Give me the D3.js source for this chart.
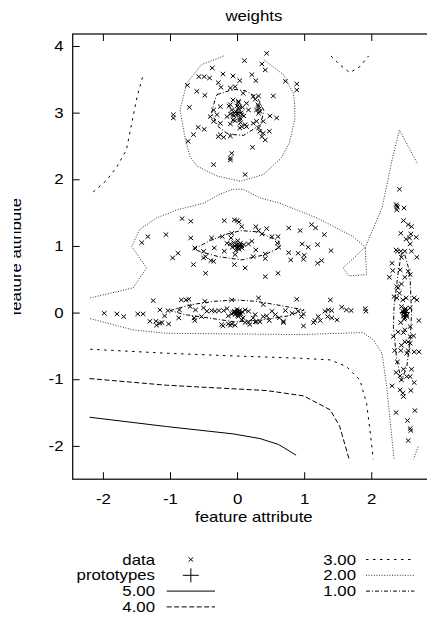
<!DOCTYPE html>
<html>
<head>
<meta charset="utf-8">
<script src="https://cdn.jsdelivr.net/npm/d3@7"></script>
<style>
  html, body { margin: 0; padding: 0; background: #fff; }
  svg { display: block; }
  text { font-family: "Liberation Sans", Arial, Helvetica, sans-serif; font-size: 14px; fill: #000; }
</style>
</head>
<body>
<svg id="chart" width="427" height="618"></svg>
<script>
// ---- data ----------------------------------------------------------------
const xTicks = [-2, -1, 0, 1, 2];
const yTicks = [-2, -1, 0, 1, 2, 3, 4];

const clusterTop = [
  [0.44,3.89],[0.11,3.78],[0.37,3.73],[0.42,3.64],[-0.37,3.67],[-0.57,3.54],[-0.49,3.54],[-0.41,3.52],
  [-0.21,3.58],[-0.06,3.55],[0.04,3.48],[0.22,3.57],[0.28,3.48],[0.72,3.47],[0.89,3.43],[0.89,3.34],
  [-0.74,3.41],[-0.28,3.45],[-0.24,3.38],[-0.10,3.37],[-0.03,3.39],[-0.60,3.32],[-0.48,3.26],[0.09,3.29],
  [0.24,3.24],[0.32,3.25],[0.27,3.20],[0.54,3.25],[-0.71,3.08],[-0.95,2.97],[-0.95,2.92],[-0.35,3.04],
  [-0.25,3.09],[-0.10,3.12],[-0.06,3.19],[0.02,3.17],[0.04,3.09],[0.14,3.14],[0.17,3.04],[0.29,3.04],
  [0.32,2.99],[0.49,2.95],[0.59,2.92],[-0.40,2.94],[-0.30,2.97],[-0.15,2.94],[-0.06,2.97],[0.00,2.99],
  [0.07,2.97],[-0.35,2.87],[-0.25,2.84],[-0.10,2.83],[-0.06,2.89],[0.04,2.89],[0.12,2.82],[0.14,2.79],
  [0.24,2.84],[0.29,2.87],[0.39,2.87],[-0.58,2.78],[-0.49,2.75],[-0.65,2.67],[-0.25,2.67],[-0.20,2.63],
  [-0.10,2.65],[-0.28,2.64],[0.04,2.77],[0.07,2.79],[0.32,2.77],[0.34,2.72],[0.39,2.69],[0.48,2.72],
  [0.37,2.64],[0.42,2.59],[-0.73,2.57],[0.23,2.48],[-0.08,2.39],[-0.10,2.32],[-0.35,2.22],[-0.10,2.29],
  [0.12,2.07],
  [-0.02,3.02],[0.01,2.98],[0.03,3.05],[-0.05,2.95],[0.06,3.00],[-0.08,3.04],[0.00,3.10],[0.04,2.92],
  [-0.03,2.88],[0.08,3.08],[-0.10,2.98],[0.02,3.15],[0.10,2.95],[-0.12,3.10],[0.05,2.85],[0.32,3.10],
  [0.33,3.06],[0.34,3.02],[0.31,3.12]
];

const clusterMid = [
  [-0.82,1.41],[-0.69,1.37],[-0.19,1.38],[-0.04,1.39],[0.00,1.38],[0.03,1.36],[0.07,1.29],[0.28,1.29],
  [0.32,1.23],[0.44,1.26],[0.77,1.27],[0.94,1.23],[1.11,1.32],[1.17,1.27],[1.30,1.17],[-1.42,1.05],
  [-1.33,1.14],[-1.06,1.17],[-0.69,1.12],[-0.38,1.12],[-0.22,1.14],[-0.08,1.19],[-0.09,1.12],[-0.15,1.04],
  [0.52,1.14],[0.61,1.14],[0.37,1.18],[0.60,1.04],[0.62,0.98],[0.97,1.03],[1.06,0.98],[1.20,1.02],
  [1.40,0.93],[-0.63,0.97],[-0.34,0.97],[-0.19,0.92],[0.28,0.94],[0.24,0.84],[0.42,0.88],[0.42,0.81],
  [0.77,0.90],[0.91,0.89],[1.00,0.86],[0.99,0.80],[0.80,0.79],[1.20,0.74],[1.26,0.78],[-0.96,0.82],
  [-0.88,0.89],[-0.50,0.92],[-0.50,0.82],[-0.47,0.84],[-0.39,0.78],[-0.35,0.77],[-0.65,0.72],[-0.04,0.72],
  [0.12,0.67],[-0.47,0.59],[0.42,0.54],[0.61,0.59],[0.07,0.97],[-0.03,0.87],[0.17,1.03],[0.22,1.07],
  [0.00,1.02],[0.02,0.98],[-0.03,1.00],[0.05,1.04],[-0.05,1.05],[0.03,0.95],[-0.02,0.93],[0.07,1.00],
  [-0.07,0.98],[0.01,1.08],[0.04,1.01],[-0.01,0.97],[0.10,1.02],[-0.10,1.03]
];

const clusterLow = [
  [-1.25,0.18],[-0.83,0.19],[-0.76,0.19],[-0.72,0.20],[-0.48,0.17],[-0.08,0.19],[0.32,0.22],[0.39,0.12],
  [0.89,0.20],[1.39,0.19],[-1.98,-0.01],[-1.79,-0.02],[-1.69,-0.06],[-1.48,-0.02],[-1.40,-0.02],[-1.15,0.04],
  [-1.03,0.03],[-1.08,-0.05],[-1.30,-0.13],[-1.21,-0.13],[-1.15,-0.16],[-1.02,-0.17],[-0.87,-0.08],[-0.86,0.04],
  [-0.70,0.09],[-0.62,0.04],[-0.50,0.07],[-0.45,0.02],[-0.38,0.03],[-0.33,0.02],[-0.27,0.03],[-0.20,0.03],
  [-0.15,0.06],[-0.04,0.01],[0.00,0.02],[0.03,-0.01],[0.12,0.04],[0.17,0.02],[0.27,-0.03],[0.24,-0.08],
  [0.39,-0.06],[0.44,-0.05],[0.52,0.02],[0.57,-0.03],[0.72,0.03],[0.63,-0.08],[0.69,-0.13],[0.82,-0.01],
  [0.91,0.02],[0.99,-0.02],[0.96,-0.06],[-0.64,-0.08],[-0.53,-0.06],[-0.23,-0.18],[-0.13,-0.17],[-0.08,-0.17],
  [0.07,-0.11],[0.17,-0.14],[0.19,-0.18],[0.29,-0.14],[0.48,-0.12],[0.99,-0.20],[1.16,-0.12],[1.21,-0.06],
  [1.31,0.02],[1.36,0.04],[1.41,0.03],[1.35,-0.06],[1.41,-0.08],[1.49,-0.11],[1.56,0.08],[1.63,0.04],
  [1.70,0.03],[1.91,0.06],[1.92,0.02],[-0.13,-0.05],[0.02,-0.06],[0.09,-0.08],[-0.03,-0.03],
  [-1.20,-0.19],[-1.12,-0.15],[-0.63,-0.12],[-0.21,-0.20],[-0.10,-0.19],[-0.03,-0.19],[0.12,-0.15],
  [0.27,-0.14],[0.34,-0.14],[0.69,-0.15],[1.14,-0.15],[1.24,-0.12],
  [0.00,0.00],[0.02,0.01],[-0.02,-0.01],[0.04,0.03],[-0.04,0.02],[0.01,-0.04],[0.06,-0.02],[-0.06,0.00],
  [0.00,0.05],[0.03,-0.03],[0.08,0.01],[-0.08,-0.02]
];

const clusterRight = [
  [2.42,1.85],[2.37,1.62],[2.38,1.54],[2.49,1.57],[2.48,1.38],[2.55,1.32],[2.60,1.29],[2.44,1.19],
  [2.59,1.18],[2.57,1.12],[2.67,1.13],[2.52,1.10],[2.58,1.03],[2.37,0.94],[2.39,0.92],[2.44,0.92],
  [2.50,0.92],[2.60,0.92],[2.45,0.83],[2.68,0.83],[2.31,0.74],[2.32,0.63],[2.43,0.64],[2.55,0.62],
  [2.58,0.57],[2.27,0.53],[2.50,0.53],[2.45,0.43],[2.38,0.39],[2.40,0.37],[2.42,0.29],[2.34,0.24],
  [2.38,0.22],[2.52,0.22],[2.47,0.19],[2.64,0.22],[2.68,0.19],[2.45,0.09],[2.58,0.07],[2.50,0.04],
  [2.48,-0.01],[2.50,-0.03],[2.53,-0.06],[2.44,-0.15],[2.71,-0.12],[2.58,-0.21],[2.50,-0.26],[2.40,-0.29],
  [2.48,-0.30],[2.58,-0.36],[2.63,-0.35],[2.33,-0.36],[2.50,-0.44],[2.55,-0.44],[2.58,-0.46],[2.45,-0.49],
  [2.35,-0.57],[2.44,-0.57],[2.55,-0.57],[2.53,-0.61],[2.64,-0.59],[2.71,-0.59],[2.39,-0.74],[2.48,-0.85],
  [2.60,-0.85],[2.37,-0.90],[2.43,-0.95],[2.53,-0.96],[2.58,-0.96],[2.45,-1.01],[2.64,-1.05],[2.31,-1.10],
  [2.43,-1.16],[2.59,-1.17],[2.47,-1.21],[2.48,-1.26],[2.37,-1.50],[2.65,-1.47],[2.54,-1.62],[2.58,-1.74],
  [2.59,-1.77],[2.55,-1.92],[2.38,1.60],[2.39,1.58],
  [2.49,0.00],[2.51,-0.02],[2.50,0.03],[2.48,-0.05],[2.52,0.02],[2.50,-0.08],[2.47,0.02],[2.53,-0.04],
  [2.49,-0.10],[2.51,0.06]
];

const prototypes = [[0, 3], [0, 1], [0, 0], [2.5, 0]];

// contour polylines per level
const levels = ["5.00", "4.00", "3.00", "2.00", "1.00"];

const contour5 = [
  [[-2.20,-1.57],[-1.05,-1.71],[-0.06,-1.82],[0.34,-1.89],[0.62,-1.98],[0.88,-2.14]]
];
const contour4 = [
  [[-2.20,-0.99],[-1.05,-1.09],[0.44,-1.17],[0.99,-1.25],[1.39,-1.46],[1.53,-1.71],[1.67,-2.20]]
];
const contour3 = [
  [[-2.19,-0.55],[-1.05,-0.61],[-0.06,-0.65],[0.94,-0.685],[1.39,-0.71],[1.63,-0.81],[1.83,-1.01],
   [1.93,-1.36],[1.98,-1.76],[2.03,-2.20]],
  [[-1.41,3.53],[-1.49,3.24],[-1.57,2.84],[-1.65,2.44],[-1.79,2.19],[-1.94,1.99],[-2.19,1.77]],
  [[1.40,3.85],[1.53,3.72],[1.68,3.60],[1.83,3.69],[1.96,3.85]]
];
const contour2 = [
  [[-0.20,3.85],[-0.53,3.72],[-0.75,3.44],[-0.85,3.04],[-0.77,2.59],[-0.70,2.34],[-0.60,2.20],
   [-0.30,2.05],[0.05,1.97],[0.39,2.07],[0.66,2.32],[0.78,2.55],[0.86,2.90],[0.86,3.10],[0.84,3.29],
   [0.69,3.57],[0.39,3.80]],
  [[-2.19,0.22],[-1.55,0.37],[-1.35,0.67],[-1.57,0.99],[-1.45,1.25],[-1.20,1.42],[-0.90,1.54],
   [-0.50,1.64],[-0.25,1.78],[-0.06,1.85],[0.09,1.85],[0.35,1.72],[0.64,1.64],[1.19,1.42],[1.73,1.14],
   [1.91,0.98],[2.16,1.57],[2.31,2.29],[2.42,2.74],[2.69,2.23]],
  [[1.91,0.98],[1.58,0.67],[1.67,0.55],[1.93,0.57],[1.91,0.98]],
  [[-2.19,-0.09],[-1.55,-0.26],[-1.05,-0.31],[-0.06,-0.32],[0.94,-0.33],[1.88,-0.30],[2.03,-0.41],
   [2.16,-0.61],[2.23,-1.11],[2.28,-1.61],[2.34,-2.20]],
  [[2.70,-2.01],[2.63,-2.20]]
];
const contour1 = [
  [[-0.30,3.27],[-0.05,3.35],[0.12,3.33],[0.30,3.23],[0.40,3.03],[0.35,2.82],[0.10,2.66],[-0.05,2.67],
   [-0.15,2.69],[-0.28,2.79],[-0.38,2.99],[-0.33,3.19],[-0.30,3.27]],
  [[-0.65,0.95],[-0.40,1.08],[-0.18,1.17],[0.06,1.23],[0.32,1.21],[0.62,1.07],[0.64,0.98],[0.42,0.87],
   [0.07,0.79],[-0.28,0.84],[-0.53,0.91],[-0.65,0.95]],
  [[-1.00,0.03],[-0.68,0.12],[-0.33,0.17],[-0.03,0.19],[0.27,0.17],[0.57,0.12],[1.00,0.04],[0.76,-0.05],
   [0.37,-0.11],[-0.03,-0.14],[-0.43,-0.08],[-0.78,-0.03],[-1.00,0.03]],
  [[2.45,0.89],[2.40,0.59],[2.34,0.09],[2.33,-0.21],[2.38,-0.71],[2.45,-1.02],[2.53,-0.81],[2.58,-0.41],
   [2.60,-0.01],[2.58,0.49],[2.55,0.69],[2.50,0.87],[2.45,0.89]]
];

// ---- layout & styles -------------------------------------------------------
const svg = d3.select("#chart");
const W = 427, H = 618;
const plot = { left: 72.7, right: 435, top: 34, bottom: 479.2 };
const STRETCH = 1.2;   // the font set is drawn wide

const xs = d3.scaleLinear().domain([-2.45, 2.95]).range([plot.left, plot.right]);
const ys = d3.scaleLinear().domain([-2.5, 4.18]).range([plot.bottom, plot.top]);

const lineStyle = {
  "5.00": { dash: null,      color: "#000", width: 1 },
  "4.00": { dash: "5,2.5",   color: "#000", width: 1 },
  "3.00": { dash: "2.5,4.5", color: "#000", width: 1 },
  "2.00": { dash: "1,1.6",   color: "#333", width: 1 },
  "1.00": { dash: "4,2,1,2", color: "#000", width: 1 }
};
const contourByLevel = { "5.00": contour5, "4.00": contour4, "3.00": contour3, "2.00": contour2, "1.00": contour1 };

function stretchedText(parent, x, y, str, anchor, rotate) {
  return parent.append("text")
    .attr("transform", `translate(${x},${y})` + (rotate ? ` rotate(${rotate})` : "") + ` scale(${STRETCH},1)`)
    .attr("text-anchor", anchor)
    .text(str);
}

const tickLabel = d => String(d);   // plain hyphen-minus
const crossPath = "M-2.3,-2.1L2.3,2.1M-2.3,2.1L2.3,-2.1";
const plusKey = "M-8,0L8,0M0,-7L0,7";
const plusPlot = "M-5,0L5,0M0,-4.5L0,4.5";

// ---- title & axis labels ---------------------------------------------------
stretchedText(svg, (plot.left + plot.right) / 2, 20.5, "weights", "middle");
stretchedText(svg, (plot.left + plot.right) / 2, 521.5, "feature attribute", "middle");

const defs = svg.append("defs");
defs.append("clipPath").attr("id", "ylabClip")
  .append("rect").attr("x", 14).attr("y", 0).attr("width", 60).attr("height", H);
defs.append("clipPath").attr("id", "plotClip")
  .append("rect").attr("x", plot.left).attr("y", plot.top)
  .attr("width", plot.right - plot.left).attr("height", plot.bottom - plot.top);

const ylab = svg.append("g").attr("clip-path", "url(#ylabClip)");
stretchedText(ylab, 21, (plot.top + plot.bottom) / 2, "feature attribute", "middle", -90);

// ---- axes (inward ticks on all sides) -------------------------------------
function styleAxis(g) {
  g.select(".domain").remove();
  g.selectAll(".tick line").attr("stroke", "#000").attr("stroke-width", 1);
  g.selectAll(".tick text")
    .style("font-family", '"Liberation Sans", Arial, sans-serif')
    .style("font-size", "14px").attr("fill", "#000");
}

svg.append("g").attr("transform", `translate(0,${plot.bottom})`)
  .call(d3.axisBottom(xs).tickValues(xTicks).tickSizeInner(-7).tickSizeOuter(0).tickPadding(14.4).tickFormat(tickLabel))
  .call(styleAxis)
  .call(g => g.selectAll(".tick text").attr("transform", `scale(${STRETCH},1)`));

svg.append("g").attr("transform", `translate(0,${plot.top})`)
  .call(d3.axisTop(xs).tickValues(xTicks).tickSizeInner(-7).tickSizeOuter(0).tickFormat(""))
  .call(styleAxis);

svg.append("g").attr("transform", `translate(${plot.left},0)`)
  .call(d3.axisLeft(ys).tickValues(yTicks).tickSizeInner(-7).tickSizeOuter(0).tickPadding(9.2 / STRETCH).tickFormat(tickLabel))
  .call(styleAxis)
  .call(g => g.selectAll(".tick text").attr("transform", `scale(${STRETCH},1)`));

svg.append("g").attr("transform", `translate(${plot.right},0)`)
  .call(d3.axisRight(ys).tickValues(yTicks).tickSizeInner(-7).tickSizeOuter(0).tickFormat(""))
  .call(styleAxis);

// ---- contours ---------------------------------------------------------------
const line = d3.line().x(d => xs(d[0])).y(d => ys(d[1]));
const contourG = svg.append("g").attr("clip-path", "url(#plotClip)").attr("fill", "none");
levels.forEach(level => {
  const st = lineStyle[level];
  contourG.selectAll(null).data(contourByLevel[level]).enter().append("path")
    .attr("d", line)
    .attr("stroke", st.color)
    .attr("stroke-width", st.width)
    .attr("stroke-dasharray", st.dash);
});

// ---- data points & prototypes ---------------------------------------------------------------
const allPoints = clusterTop.concat(clusterMid, clusterLow, clusterRight);
svg.append("g").attr("fill", "none").attr("stroke", "#000").attr("stroke-width", 1)
  .selectAll("path").data(allPoints).enter().append("path")
  .attr("transform", d => `translate(${xs(d[0])},${ys(d[1])})`)
  .attr("d", crossPath);

svg.append("g").attr("fill", "none").attr("stroke", "#000").attr("stroke-width", 1)
  .selectAll("path").data(prototypes).enter().append("path")
  .attr("transform", d => `translate(${xs(d[0])},${ys(d[1])})`)
  .attr("d", plusPlot);

// ---- border ------------------------------------------------------------------
svg.append("rect")
  .attr("x", plot.left).attr("y", plot.top)
  .attr("width", plot.right - plot.left).attr("height", plot.bottom - plot.top)
  .attr("fill", "none").attr("stroke", "#000").attr("stroke-width", 1.2);

// ---- key -----------------------------------------------------------------------------
const keyRow = i => 559.5 + i * 15.8;
const keyLeft = [
  { label: "data", kind: "cross" },
  { label: "prototypes", kind: "plus" },
  { label: "5.00", kind: "line" },
  { label: "4.00", kind: "line" }
];
const keyRight = [
  { label: "3.00", kind: "line" },
  { label: "2.00", kind: "line" },
  { label: "1.00", kind: "line" }
];
function drawKey(items, textX, x0, x1) {
  items.forEach((it, i) => {
    const y = keyRow(i);
    stretchedText(svg, textX, y + 5, it.label, "end");
    const cx = (x0 + x1) / 2;
    if (it.kind === "cross" || it.kind === "plus") {
      svg.append("path").attr("transform", `translate(${cx},${y})`)
        .attr("d", it.kind === "cross" ? crossPath : plusKey)
        .attr("stroke", "#000").attr("stroke-width", 1).attr("fill", "none");
    } else {
      const st = lineStyle[it.label];
      svg.append("line").attr("x1", x0).attr("x2", x1).attr("y1", y).attr("y2", y)
        .attr("stroke", st.color).attr("stroke-width", st.width).attr("stroke-dasharray", st.dash);
    }
  });
}
drawKey(keyLeft, 155, 166.7, 215);
drawKey(keyRight, 356, 366, 414.3);
</script>
</body>
</html>
